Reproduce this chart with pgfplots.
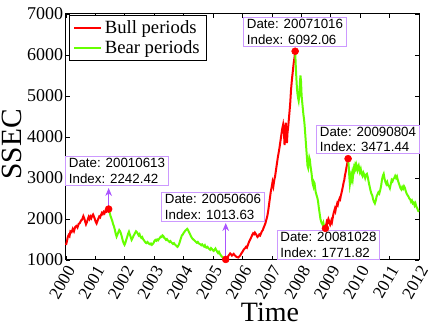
\documentclass[border=0pt]{standalone}
\usepackage{fontspec}
\setmainfont{Liberation Serif}
\newfontfamily\boxfont{Liberation Sans}
\usepackage{pgfplots}
\pgfplotsset{compat=1.18}
\usetikzlibrary{arrows.meta}
\definecolor{bull}{RGB}{255,0,0}
\definecolor{bear}{RGB}{102,255,0}
\definecolor{tipframe}{RGB}{204,153,255}
\definecolor{tiparrow}{RGB}{170,85,255}

\pgfplotstableread{
x y
2000.00 1366
2000.03 1450
2000.06 1560
2000.09 1610
2000.12 1580
2000.15 1700
2000.19 1680
2000.23 1760
2000.27 1700
2000.31 1800
2000.35 1830
2000.39 1790
2000.43 1880
2000.47 1900
2000.51 1960
2000.55 1990
2000.59 2070
2000.62 2020
2000.65 1940
2000.68 1870
2000.71 1920
2000.74 1990
2000.77 2050
2000.80 2000
2000.83 2060
2000.86 2020
2000.89 2080
2000.92 2110
2000.95 2060
2000.98 2000
2001.01 1930
2001.04 1890
2001.07 1950
2001.10 2010
2001.13 2060
2001.16 2040
2001.19 2100
2001.22 2150
2001.25 2120
2001.28 2170
2001.31 2140
2001.34 2200
2001.37 2180
2001.41 2230
2001.45 2242.42
}\bullA

\pgfplotstableread{
x y
2001.45 2242.42
2001.48 2170
2001.51 2080
2001.54 2020
2001.57 1960
2001.60 1880
2001.63 1820
2001.66 1740
2001.69 1640
2001.72 1570
2001.75 1620
2001.78 1680
2001.81 1730
2001.84 1700
2001.87 1640
2001.90 1560
2001.93 1470
2001.96 1410
2001.99 1370
2002.02 1420
2002.05 1500
2002.08 1560
2002.11 1640
2002.14 1690
2002.17 1620
2002.20 1560
2002.23 1490
2002.26 1530
2002.29 1580
2002.32 1620
2002.35 1660
2002.38 1700
2002.41 1680
2002.44 1640
2002.47 1600
2002.50 1630
2002.53 1570
2002.56 1540
2002.59 1560
2002.62 1510
2002.65 1480
2002.68 1450
2002.71 1420
2002.74 1410
2002.77 1440
2002.80 1420
2002.83 1390
2002.86 1380
2002.89 1400
2002.92 1370
2002.95 1390
2002.98 1420
2003.01 1470
2003.04 1490
2003.07 1470
2003.10 1500
2003.13 1480
2003.16 1510
2003.19 1540
2003.22 1570
2003.25 1560
2003.28 1600
2003.31 1580
2003.34 1540
2003.37 1520
2003.40 1490
2003.43 1510
2003.46 1480
2003.49 1460
2003.52 1440
2003.55 1460
2003.58 1430
2003.61 1410
2003.64 1390
2003.67 1410
2003.70 1380
2003.73 1360
2003.76 1340
2003.79 1320
2003.82 1350
2003.85 1400
2003.88 1470
2003.91 1540
2003.94 1600
2003.97 1620
2004.00 1660
2004.03 1690
2004.06 1720
2004.09 1740
2004.12 1760
2004.15 1730
2004.18 1680
2004.21 1640
2004.24 1590
2004.27 1550
2004.30 1520
2004.33 1500
2004.36 1480
2004.39 1460
2004.42 1440
2004.45 1420
2004.48 1440
2004.51 1410
2004.54 1390
2004.57 1380
2004.60 1360
2004.63 1380
2004.66 1350
2004.69 1330
2004.72 1360
2004.75 1310
2004.78 1300
2004.81 1320
2004.84 1290
2004.87 1270
2004.90 1250
2004.93 1290
2004.96 1270
2004.99 1240
2005.02 1220
2005.05 1250
2005.08 1280
2005.11 1240
2005.14 1200
2005.17 1170
2005.20 1200
2005.23 1150
2005.26 1120
2005.29 1090
2005.32 1070
2005.35 1050
2005.38 1030
2005.43 1013.63
}\bearA

\pgfplotstableread{
x y
2005.43 1013.63
2005.46 1040
2005.49 1070
2005.52 1100
2005.55 1130
2005.58 1160
2005.61 1140
2005.64 1110
2005.67 1130
2005.70 1150
2005.73 1120
2005.76 1100
2005.79 1080
2005.82 1070
2005.85 1060
2005.88 1080
2005.91 1100
2005.94 1130
2005.97 1170
2006.00 1200
2006.03 1240
2006.06 1270
2006.09 1290
2006.12 1320
2006.15 1300
2006.18 1360
2006.21 1420
2006.24 1470
2006.27 1510
2006.30 1560
2006.33 1610
2006.36 1650
2006.39 1630
2006.42 1670
2006.45 1640
2006.48 1600
2006.51 1560
2006.54 1580
2006.57 1620
2006.60 1600
2006.63 1650
2006.66 1700
2006.69 1730
2006.72 1790
2006.75 1840
2006.78 1900
2006.81 1980
2006.84 2060
2006.87 2180
2006.90 2340
2006.93 2500
2006.96 2660
2006.99 2770
2007.02 2900
2007.05 2800
2007.08 2950
2007.11 3050
2007.14 3200
2007.17 3350
2007.20 3500
2007.23 3620
2007.26 3750
2007.29 3900
2007.32 4050
2007.35 4200
2007.38 4300
2007.41 4100
2007.43 3800
2007.45 4200
2007.47 4350
2007.49 4000
2007.51 3850
2007.53 4100
2007.56 4300
2007.59 4550
2007.62 4800
2007.65 5150
2007.68 5400
2007.71 5600
2007.74 5800
2007.77 5950
2007.79 6092.06
}\bullB

\pgfplotstableread{
x y
2007.79 6092.06
2007.81 5750
2007.83 5450
2007.85 5200
2007.87 5050
2007.89 4950
2007.91 4880
2007.93 5000
2007.95 5300
2007.97 5500
2007.99 5350
2008.01 5000
2008.03 4850
2008.05 4700
2008.07 4550
2008.09 4450
2008.11 4300
2008.13 4100
2008.15 3900
2008.17 3700
2008.19 3500
2008.21 3300
2008.23 3250
2008.25 3400
2008.27 3500
2008.29 3450
2008.31 3300
2008.33 3200
2008.35 3100
2008.37 2950
2008.39 2850
2008.41 2800
2008.43 2900
2008.45 2870
2008.47 2750
2008.49 2650
2008.51 2600
2008.53 2550
2008.55 2500
2008.57 2420
2008.59 2300
2008.61 2200
2008.63 2100
2008.65 2000
2008.67 1950
2008.69 1900
2008.71 1880
2008.73 1850
2008.75 1900
2008.77 1830
2008.80 1800
2008.82 1771.82
}\bearB

\pgfplotstableread{
x y
2008.82 1771.82
2008.84 1850
2008.86 1920
2008.88 1880
2008.90 1950
2008.92 2000
2008.94 1960
2008.96 1900
2008.98 1860
2009.00 1900
2009.02 1960
2009.04 1920
2009.06 2000
2009.08 2080
2009.10 2150
2009.12 2200
2009.14 2250
2009.16 2200
2009.18 2280
2009.20 2320
2009.22 2380
2009.24 2350
2009.26 2420
2009.28 2460
2009.30 2500
2009.32 2480
2009.34 2560
2009.36 2620
2009.38 2680
2009.40 2750
2009.42 2820
2009.44 2900
2009.46 2950
2009.48 3050
2009.50 3120
2009.52 3200
2009.54 3280
2009.56 3350
2009.59 3471.44
}\bullC

\pgfplotstableread{
x y
2009.59 3471.44
2009.61 3300
2009.63 3050
2009.65 2850
2009.67 2950
2009.69 3050
2009.71 2980
2009.73 3100
2009.75 3000
2009.77 3150
2009.79 3250
2009.81 3200
2009.83 3300
2009.85 3250
2009.87 3330
2009.89 3280
2009.91 3200
2009.93 3260
2009.95 3300
2009.97 3220
2009.99 3150
2010.02 3220
2010.05 3100
2010.08 3050
2010.11 3130
2010.14 3080
2010.17 3000
2010.20 3080
2010.23 3100
2010.26 3020
2010.29 2900
2010.32 2800
2010.35 2700
2010.38 2620
2010.41 2580
2010.44 2480
2010.47 2420
2010.50 2380
2010.53 2450
2010.56 2550
2010.59 2600
2010.62 2650
2010.65 2620
2010.68 2700
2010.71 2800
2010.74 2950
2010.77 3050
2010.80 3100
2010.83 2980
2010.86 2900
2010.89 2850
2010.92 2900
2010.95 2820
2010.98 2800
2011.01 2750
2011.04 2850
2011.07 2950
2011.10 2920
2011.13 2980
2011.16 3000
2011.19 3050
2011.22 3000
2011.25 3040
2011.28 2950
2011.31 2880
2011.34 2820
2011.37 2750
2011.40 2720
2011.43 2780
2011.46 2740
2011.49 2800
2011.52 2760
2011.55 2680
2011.58 2620
2011.61 2580
2011.64 2550
2011.67 2500
2011.70 2480
2011.73 2420
2011.76 2450
2011.79 2380
2011.82 2400
2011.85 2330
2011.88 2380
2011.91 2300
2011.94 2260
2011.97 2200
2012.00 2180
}\bearC

\pgfplotstableread{
x y
2001.45 2242.42
2005.43 1013.63
2007.79 6092.06
2008.82 1771.82
2009.59 3471.44
}\turns

\begin{document}
\begin{tikzpicture}
\begin{axis}[
    name=ax,
    at={(0,0)}, anchor=south west,
    scale only axis,
    width=264.75pt, height=184.5pt,
    xmin=2000, xmax=2012,
    ymin=1000, ymax=7000,
    xtick={2000,2001,...,2012},
    ytick={1000,2000,...,7000},
    /pgf/number format/1000 sep={},
    /pgf/number format/assume math mode=true,
    tick align=inside,
    major tick length=3pt,
    axis line style={line width=0.75pt},
    tick style={line width=0.6pt, black},
    yticklabel style={font=\fontsize{13.5}{15}\selectfont, inner sep=2pt},
    xticklabel style={font=\fontsize{13}{14}\selectfont, rotate=60,
        anchor=east, inner sep=0pt, xshift=-3pt, yshift=-5.9pt},
    every axis x label/.style={at={(axis description cs:0.578,-0.211)}, anchor=center,
        font=\fontsize{21}{23}\selectfont},
    every axis y label/.style={at={(axis description cs:-0.153,0.47)}, rotate=90, anchor=center,
        font=\fontsize{22}{24}\selectfont},
    xlabel={Time},
    ylabel={SSEC},
    clip=false,
    legend cell align=left,
    legend style={at={(axis description cs:0.0085,0.996)}, anchor=north west,
        draw=black, line width=0.75pt, fill=white,
        font=\fontsize{14}{16}\selectfont, inner xsep=3pt, inner ysep=1.5pt,
        row sep=0pt},
    legend image code/.code={\draw[#1, line width=1.5pt] (0pt,0pt) -- (20pt,0pt);},
]
\addplot[bull, line width=1.5pt] table[x=x, y=y] {\bullA};
\addlegendentry{Bull periods}
\addplot[bear, line width=1.5pt] table[x=x, y=y] {\bearA};
\addlegendentry{Bear periods}
\addplot[bull, line width=1.5pt, forget plot] table[x=x, y=y] {\bullB};
\addplot[bear, line width=1.5pt, forget plot] table[x=x, y=y] {\bearB};
\addplot[bull, line width=1.5pt, forget plot] table[x=x, y=y] {\bullC};
\addplot[bear, line width=1.5pt, forget plot] table[x=x, y=y] {\bearC};
\addplot[only marks, mark=*, mark size=2.6pt, color=bull, forget plot] table[x=x, y=y] {\turns};

\draw[tiparrow, line width=0.75pt, -{Stealth[length=6pt, width=5pt]}]
    (axis cs:2001.45,2320) -- (axis cs:2001.45,2756);
\draw[tiparrow, line width=0.75pt, -{Stealth[length=6pt, width=5pt]}]
    (axis cs:2005.43,1080) -- (axis cs:2005.43,1902);

\tikzset{tip/.style={draw=tipframe, line width=0.75pt, fill=white, align=left,
    inner xsep=2.5pt, inner ysep=1.5pt, font=\boxfont\fontsize{10}{11.5}\selectfont}}
\node[tip] at (axis cs:2001.733,3171) {Date: 20010613\\Index: 2242.42};
\node[tip] at (axis cs:2004.997,2293) {Date: 20050606\\Index: 1013.63};
\node[tip] at (axis cs:2007.784,6561) {Date: 20071016\\Index: 6092.06};
\node[tip] at (axis cs:2010.265,3939) {Date: 20090804\\Index: 3471.44};
\node[tip] at (axis cs:2008.923,1366) {Date: 20081028\\Index: 1771.82};
\end{axis}
\pgfresetboundingbox
\path[use as bounding box] (-49.5pt,-50.25pt) rectangle (277.5pt,195pt);
\end{tikzpicture}
\end{document}
